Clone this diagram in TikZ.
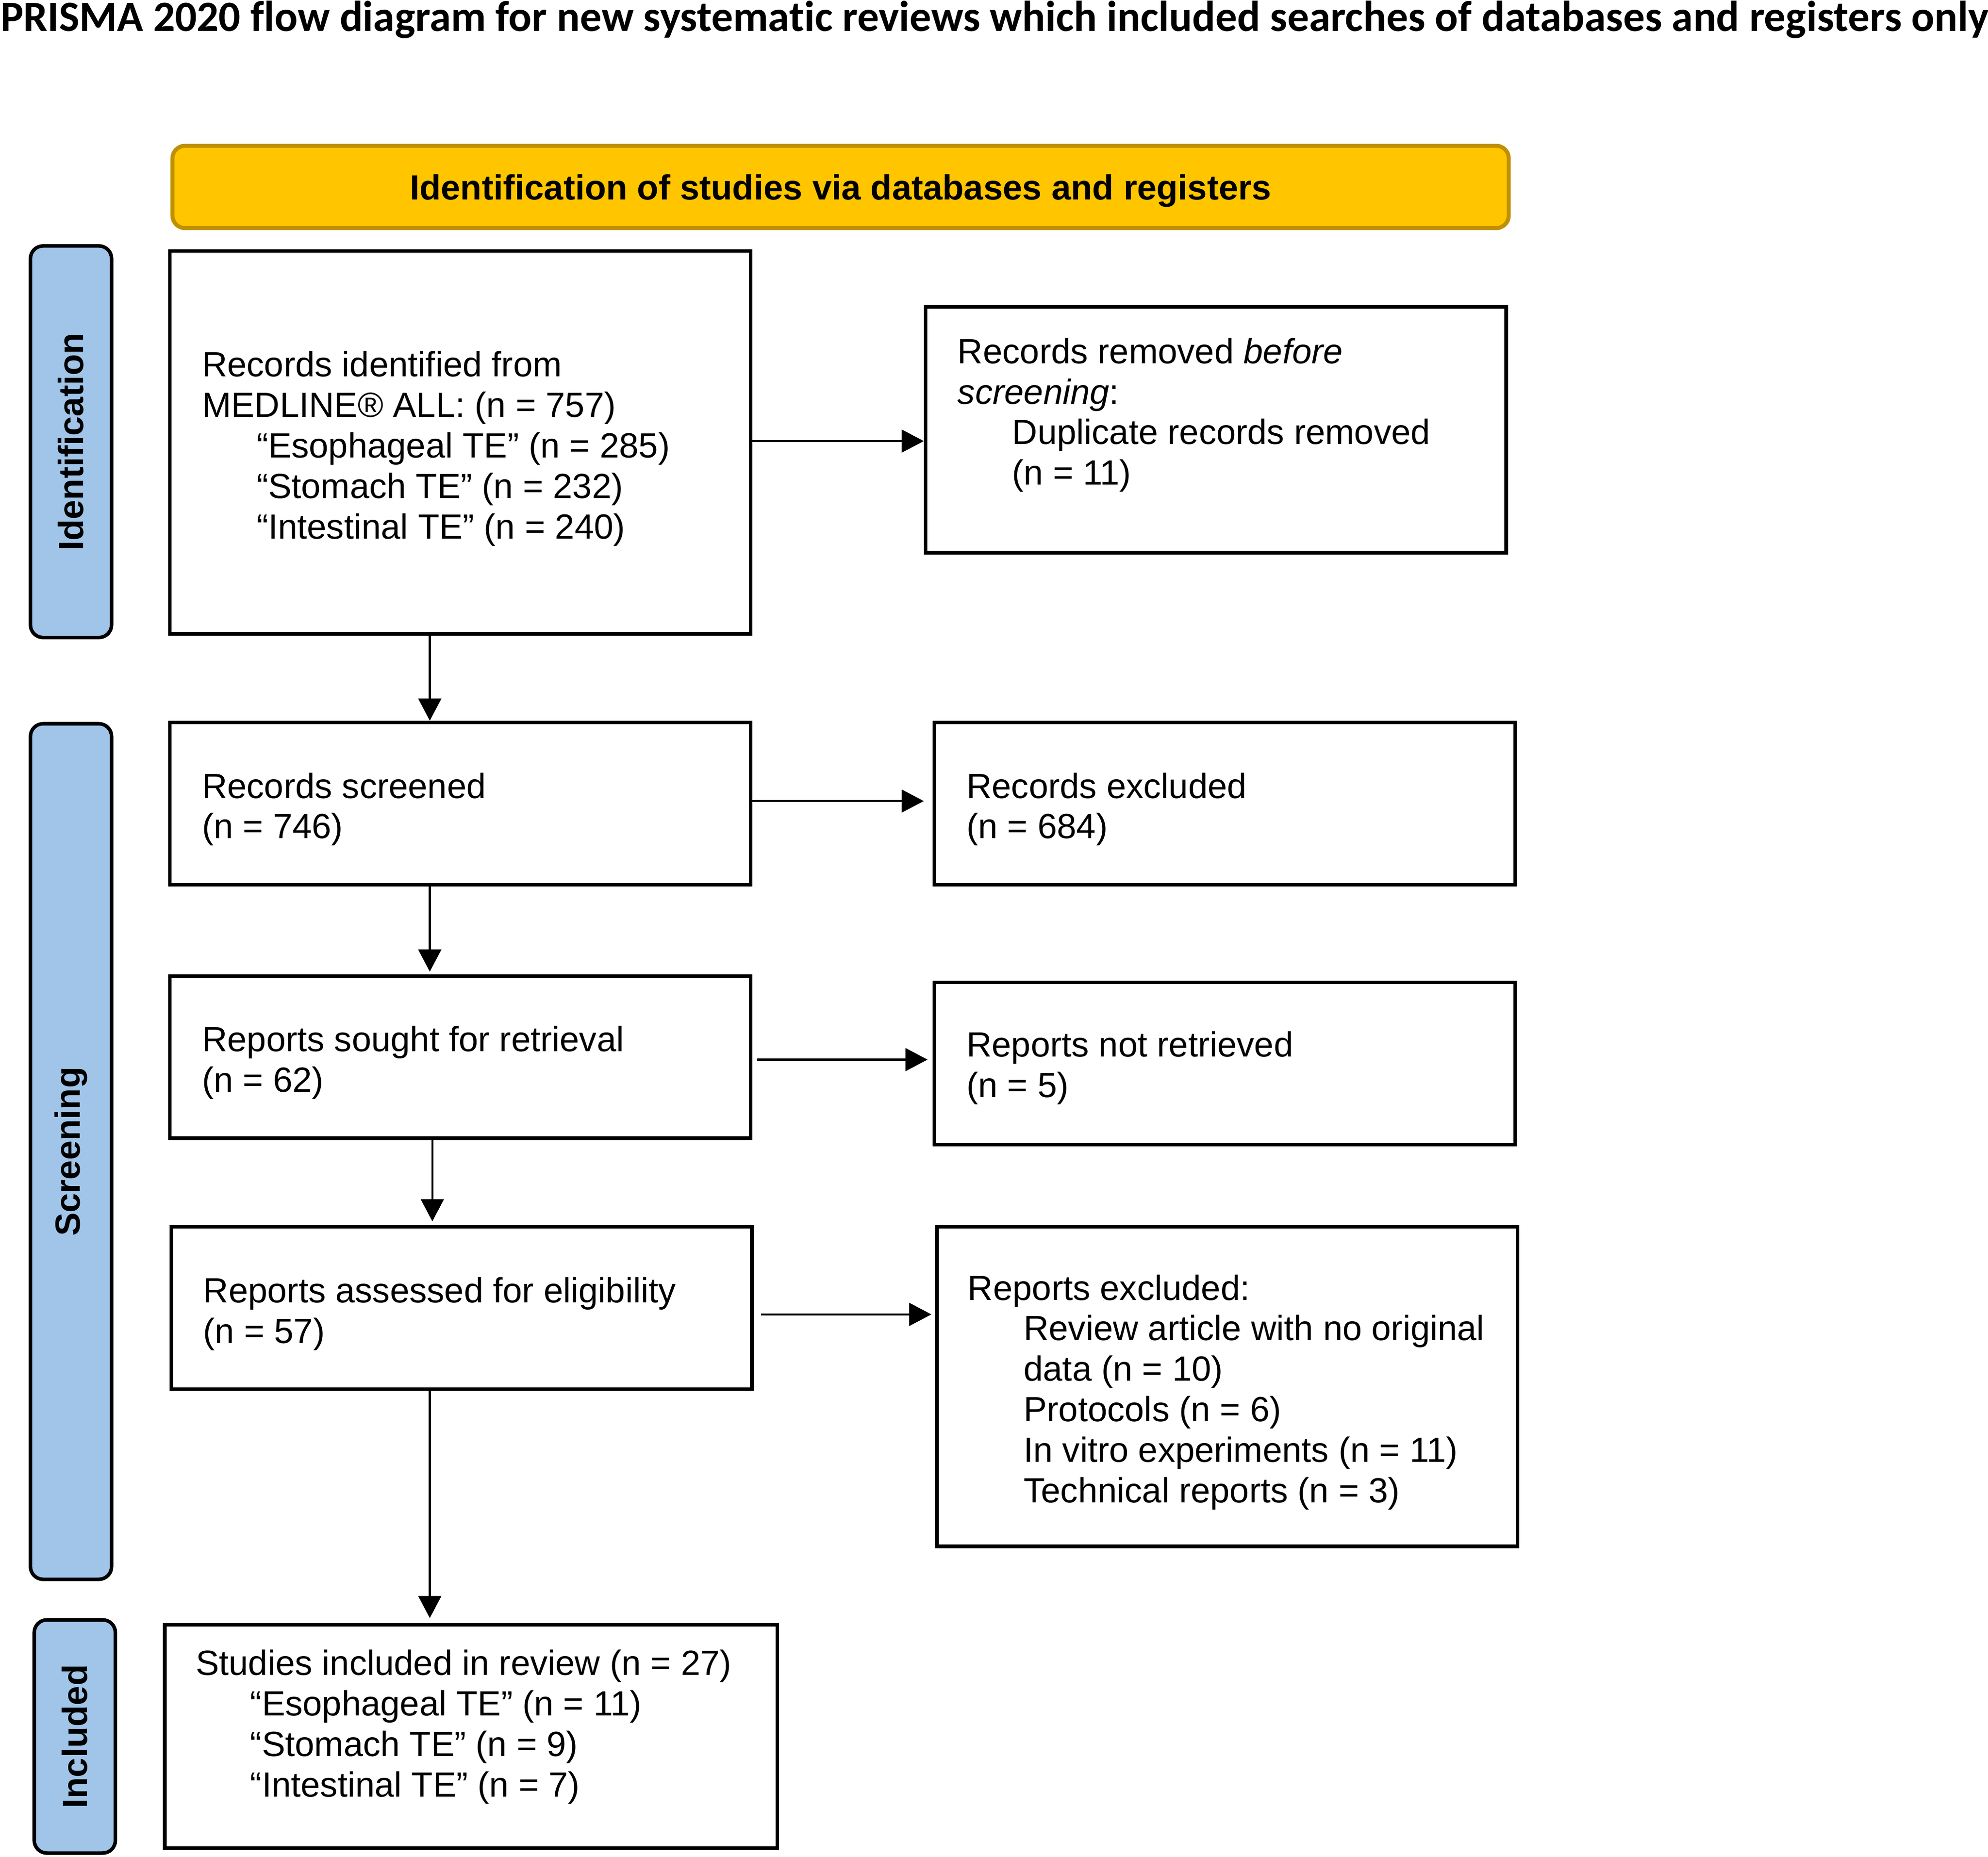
\documentclass[tikz,border=0pt]{standalone}
\usepackage{graphicx}
\usepackage{fontspec}
\setmainfont{Liberation Sans}
\newfontfamily\titlefont[Ligatures=NoCommon]{Carlito}
\usetikzlibrary{arrows.meta}
\definecolor{bannerfill}{HTML}{FFC600}
\definecolor{bannerline}{HTML}{BF9000}
\definecolor{sidefill}{HTML}{A0C5E9}
\begin{document}
\begin{tikzpicture}[x=0.5pt,y=-0.5pt,
  box/.style={draw=black, line width=1.4pt, inner sep=0pt, fill=white},
  sidebar/.style={draw=black, line width=1.4pt, fill=sidefill, rounded corners=5pt, inner sep=0pt, rotate=90,
     font=\fontsize{13.8}{16}\selectfont\bfseries},
  banner/.style={draw=bannerline, line width=1.6pt, fill=bannerfill, rounded corners=5pt, inner sep=0pt},
  bannertxt/.style={inner sep=0pt, font=\fontsize{13.8}{16}\selectfont\bfseries},
  txt/.style={inner sep=0pt, anchor=west, align=left, font=\fontsize{13.8}{16}\selectfont},
  arr/.style={line width=0.8pt, -{Triangle[length=8.75pt,width=9pt]}}]
\useasboundingbox (0,0) rectangle (1568,1465);
\fill[white] (0,0) rectangle (1568,1465);

% title
\node[anchor=base west, inner sep=0pt] (title) at (0,24.5)
  {\resizebox{784pt}{!}{\titlefont\bfseries PRISMA 2020 flow diagram for new systematic reviews which included searches of databases and registers only}};

% banner
\node[banner, minimum width=527pt, minimum height=32.5pt] (banner) at (663,147.5) {};
\node[bannertxt] (bannertext) at (663,150.5) {Identification of studies via databases and registers};

% side bars
\node[sidebar, minimum width=154.5pt, minimum height=32pt] (sideid) at (56,348.5) {Identification};
\node[sidebar, minimum width=337.5pt, minimum height=32pt] (sidescr) at (56,908.5) {Screening};
\node[sidebar, minimum width=92pt, minimum height=32pt] (sideinc) at (59,1370) {Included};

% boxes
\node[box, minimum width=229pt, minimum height=151pt] (b1) at (363,349) {};
\node[box, minimum width=229pt, minimum height=97pt] (b2) at (959,339) {};
\node[box, minimum width=229pt, minimum height=64pt] (b3) at (363,634) {};
\node[box, minimum width=229pt, minimum height=64pt] (b4) at (966,634) {};
\node[box, minimum width=229pt, minimum height=64pt] (b5) at (363,834) {};
\node[box, minimum width=229pt, minimum height=64pt] (b6) at (966,839) {};
\node[box, minimum width=229pt, minimum height=64pt] (b7) at (364,1032) {};
\node[box, minimum width=229pt, minimum height=126pt] (b8) at (968,1094) {};
\node[box, minimum width=241.5pt, minimum height=88pt] (b9) at (371.5,1370) {};

% texts
\node[txt] (t1) at (159,354) {Records identified from\\MEDLINE® ALL: (n = 757)\\
  \hspace*{21.5pt}“Esophageal TE” (n = 285)\\
  \hspace*{21.5pt}“Stomach TE” (n = 232)\\
  \hspace*{21.5pt}“Intestinal TE” (n = 240)};
\node[txt] (t2) at (755,327.5) {Records removed \textit{before}\\\textit{screening}:\\
  \hspace*{21.5pt}Duplicate records removed\\
  \hspace*{21.5pt}(n = 11)};
\node[txt] (t3) at (159,638.5) {Records screened\\(n = 746)};
\node[txt] (t4) at (762,638.5) {Records excluded\\(n = 684)};
\node[txt] (t5) at (159,838.5) {Reports sought for retrieval\\(n = 62)};
\node[txt] (t6) at (762,842.5) {Reports not retrieved\\(n = 5)};
\node[txt] (t7) at (160,1036.5) {Reports assessed for eligibility\\(n = 57)};
\node[txt] (t8) at (763,1098.5) {Reports excluded:\\
  \hspace*{22pt}Review article with no original\\
  \hspace*{22pt}data (n = 10)\\
  \hspace*{22pt}Protocols (n = 6)\\
  \hspace*{22pt}In vitro experiments (n = 11)\\
  \hspace*{22pt}Technical reports (n = 3)};
\node[txt] (t9) at (154,1362.5) {Studies included in review (n = 27)\\
  \hspace*{21.5pt}“Esophageal TE” (n = 11)\\
  \hspace*{21.5pt}“Stomach TE” (n = 9)\\
  \hspace*{21.5pt}“Intestinal TE” (n = 7)};

% arrows
\draw[arr] ([yshift=0.5pt]b1.east) -- ([yshift=0.5pt]b2.west |- b1.east);
\draw[arr, shorten >=3.5pt] ([yshift=1pt]b3.east) -- ([yshift=1pt]b4.west |- b3.east);
\draw[arr, shorten <=2pt, shorten >=2pt] ([yshift=-1pt]b5.east) -- ([yshift=-1pt]b6.west |- b5.east);
\draw[arr, shorten <=3pt, shorten >=1.5pt] ([yshift=-2.5pt]b7.east) -- ([yshift=-2.5pt]b8.west |- b7.east);
\draw[arr] ([xshift=-12pt]b1.south) -- ([xshift=-12pt]b1.south |- b3.north);
\draw[arr, shorten >=1pt] ([xshift=-12pt]b3.south) -- ([xshift=-12pt]b3.south |- b5.north);
\draw[arr, shorten >=1.5pt] ([xshift=-11pt]b5.south) -- ([xshift=-11pt]b5.south |- b7.north);
\draw[arr, shorten >=2pt] ([xshift=-12.5pt]b7.south) -- ([xshift=-12.5pt]b7.south |- b9.north);
\end{tikzpicture}
\end{document}
